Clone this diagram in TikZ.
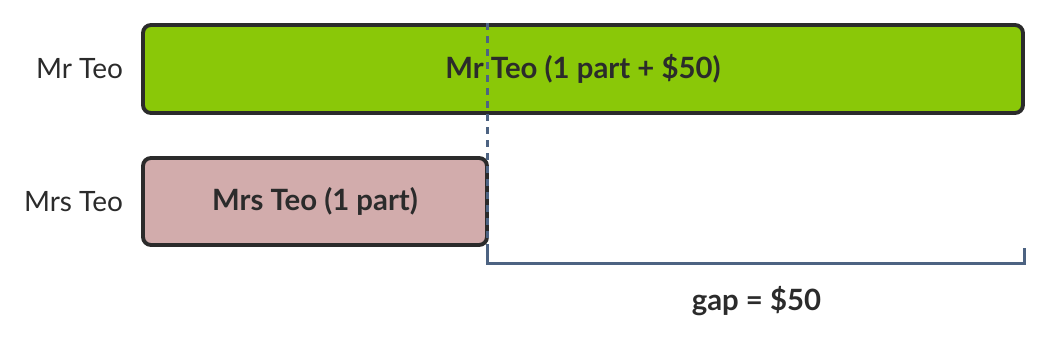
\documentclass[tikz,border=0pt]{standalone}
\usepackage{fontspec}
\setmainfont{Lato}
\usepackage{xcolor}
\usetikzlibrary{positioning,calc}
\definecolor{barGreen}{HTML}{8AC808}
\definecolor{barPink}{HTML}{D2ACAC}
\definecolor{barEdge}{HTML}{2B2B2B}
\definecolor{gapBlue}{HTML}{4D6382}

\begin{document}
\begin{tikzpicture}[
    x=0.75pt, y=-0.75pt,
    bar/.style={
      rectangle,
      draw=barEdge,
      line width=2.9pt,
      rounded corners=6pt,
      inner sep=0pt,
      text=barEdge,
      font=\fontsize{22}{26}\selectfont\bfseries
    },
    who/.style={text=barEdge, font=\fontsize{21}{25}\selectfont, anchor=east},
    gapline/.style={draw=gapBlue, line width=2.3pt},
]
    \useasboundingbox (0,0) rectangle (1049,338);

    \node [bar, fill=barGreen, minimum width=880*0.75pt, minimum height=88*0.75pt] (mr) at (583,69) {Mr Teo (1 part + \$50)};
    \node [bar, fill=barPink, minimum width=344*0.75pt, minimum height=87*0.75pt] (mrs) at (315,201.5) {Mrs Teo (1 part)};

    \node [who, left=10pt of mr.west] (mrlabel) {Mr Teo};
    \node [who, left=10pt of mrs.west] (mrslabel) {Mrs Teo};

    % gap marker
    \coordinate (gaptop) at ($(mrs.east |- mr.north)+(-1,0)$);
    \coordinate (gapbase) at ($(mrs.south east)+(-1,0)$);
    \coordinate (gapleft) at ($(gapbase)+(0,17)$);
    \coordinate (gapright) at (mr.east |- gapleft);
    \draw [gapline, dash pattern=on 5.25pt off 4.5pt] (gaptop) -- (gapbase);
    \draw [gapline] (gapbase) -- (gapleft) -- (gapright) -- ++(0,-16);

    \node [text=barEdge, font=\fontsize{22}{26}\selectfont\bfseries] (gap) at ($(gapleft)!0.5!(gapright)+(0,37)$) {gap = \$50};
\end{tikzpicture}
\end{document}
